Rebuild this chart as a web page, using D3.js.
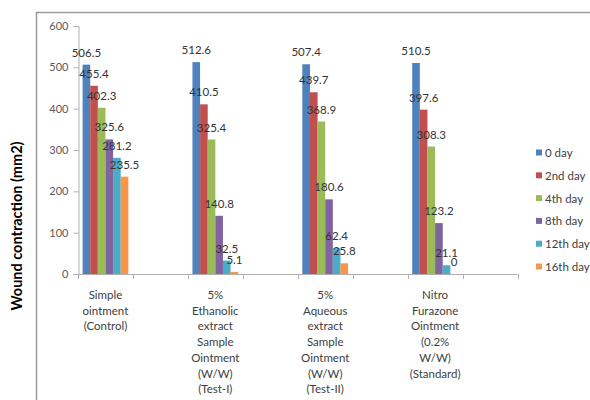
<!DOCTYPE html>
<html>
<head>
<meta charset="utf-8">
<script src="https://cdn.jsdelivr.net/npm/d3@7"></script>
<style>
    body { margin: 0; background: #fff; }
    text { font-family: Lato, "Open Sans", sans-serif; }
</style>
</head>
<body>
<div id="chart"></div>
<script>
// categories (blank ones are the empty slots between groups)
const categories = [
    ["Simple", "ointment", "(Control)"],
    [],
    ["5%", "Ethanolic", "extract", "Sample", "Ointment", "(W/W)", "(Test-I)"],
    [],
    ["5%", "Aqueous", "extract", "Sample", "Ointment", "(W/W)", "(Test-II)"],
    [],
    ["Nitro", "Furazone", "Ointment", "(0.2%", "W/W)", "(Standard)"],
    []
];
const series = ["0 day", "2nd day", "4th day", "8th day", "12th day", "16th day"];
const colors = ["#4F81BD", "#C0504D", "#9BBB59", "#8064A2", "#4BACC6", "#F79646"];
// one row per category, one value per day (null = empty slot)
const values = [
    [506.5, 455.4, 402.3, 325.6, 281.2, 235.5],
    null,
    [512.6, 410.5, 325.4, 140.8, 32.5, 5.1],
    null,
    [507.4, 439.7, 368.9, 180.6, 62.4, 25.8],
    null,
    [510.5, 397.6, 308.3, 123.2, 21.1, 0],
    null
];
const yTicks = [0, 100, 200, 300, 400, 500, 600];

const W = 590, H = 400;
const svg = d3.select("#chart").append("svg")
    .attr("width", W).attr("height", H);

// outer frame (only top and left visible)
svg.append("path")
    .attr("d", "M36.5," + H + "V12.5H" + W)
    .attr("fill", "none").attr("stroke", "#9a9a9a").attr("stroke-width", 1.5);

const plot = {left: 78, right: 517.5, top: 26, bottom: 274};

let x = d3.scaleBand()
    .domain(d3.range(categories.length))
    .range([plot.left, plot.right]);
let x1 = d3.scaleBand()
    .domain(series)
    .range([0, x.bandwidth()])
    .paddingOuter(0.6);
let y = d3.scaleLinear()
    .domain([0, 600])
    .range([plot.bottom, plot.top]);

// y axis
let yAxis = svg.append("g")
    .attr("class", "axis y-axis")
    .attr("transform", "translate(" + (plot.left + 0.5) + ",0)")
    .call(d3.axisLeft(y).tickValues(yTicks).tickSize(5).tickPadding(5));
yAxis.select(".domain").attr("stroke", "#b0b0b0");
yAxis.selectAll(".tick line").attr("stroke", "#b0b0b0");
yAxis.selectAll(".tick text").attr("fill", "#595959").style("font-size", "11px");

// x axis: ticks on category boundaries
let xAxis = svg.append("g").attr("class", "axis x-axis");
xAxis.append("line")
    .attr("x1", plot.left).attr("x2", plot.right)
    .attr("y1", plot.bottom + 0.5).attr("y2", plot.bottom + 0.5)
    .attr("stroke", "#b0b0b0");
xAxis.selectAll(".xtick")
    .data(d3.range(categories.length + 1))
    .enter().append("line")
    .attr("x1", d => Math.round(plot.left + d * x.step()) + 0.5)
    .attr("x2", d => Math.round(plot.left + d * x.step()) + 0.5)
    .attr("y1", plot.bottom)
    .attr("y2", plot.bottom + 5)
    .attr("stroke", "#b0b0b0");

// category labels
categories.forEach(function (lines, i) {
    let t = svg.append("text")
        .attr("text-anchor", "middle")
        .attr("fill", "#404040")
        .style("font-size", "11.5px");
    lines.forEach(function (ln, k) {
        t.append("tspan")
            .attr("x", x(i) + x.bandwidth() / 2)
            .attr("y", 299 + k * 15.7)
            .text(ln);
    });
});

// bars
values.forEach(function (row, i) {
    if (!row) return;
    let g = svg.append("g").attr("transform", "translate(" + x(i) + ",0)");
    g.selectAll("rect")
        .data(row)
        .enter().append("rect")
        .attr("x", (d, j) => x1(series[j]))
        .attr("y", d => y(d))
        .attr("width", x1.bandwidth())
        .attr("height", d => y(0) - y(d))
        .attr("fill", (d, j) => colors[j]);
    g.selectAll("text")
        .data(row)
        .enter().append("text")
        .attr("x", (d, j) => x1(series[j]) + x1.bandwidth() / 2)
        .attr("y", d => y(d) - 8)
        .attr("text-anchor", "middle")
        .attr("fill", "#333")
        .style("font-size", "11.5px")
        .text(d => d);
});

// y label
svg.append("text")
    .attr("transform", "translate(17,226) rotate(-90)")
    .attr("text-anchor", "middle")
    .attr("dy", "0.35em")
    .attr("fill", "#000")
    .style("font-size", "14.5px")
    .style("font-weight", "bold")
    .text("Wound contraction (mm2)");

// legend
let legend = svg.append("g").attr("transform", "translate(536,153)");
series.forEach(function (s, i) {
    let row = legend.append("g").attr("transform", "translate(0," + (i * 22.8) + ")");
    row.append("rect")
        .attr("x", 0).attr("y", -3.5)
        .attr("width", 6).attr("height", 6)
        .attr("fill", colors[i]);
    row.append("text")
        .attr("x", 9).attr("dy", "0.35em")
        .attr("fill", "#404040")
        .style("font-size", "11.5px")
        .text(s);
});
</script>
</body>
</html>
